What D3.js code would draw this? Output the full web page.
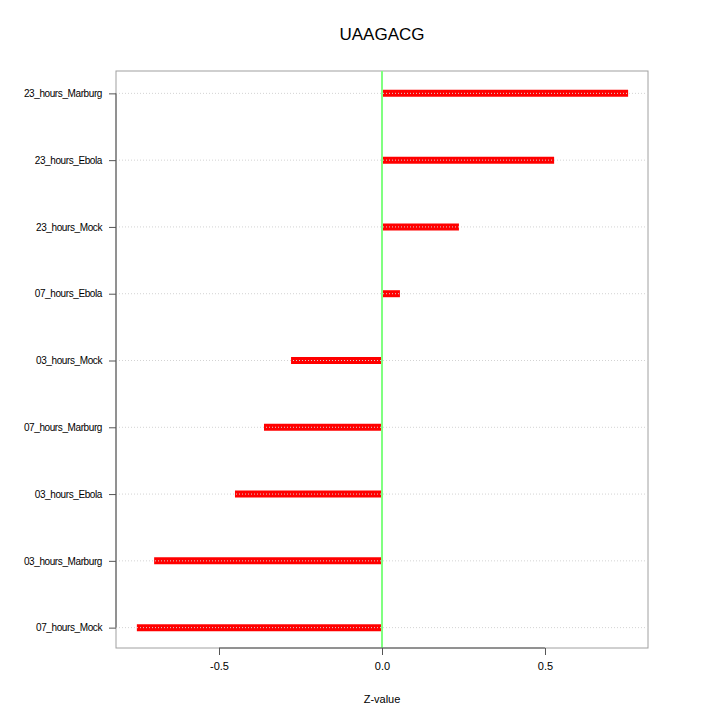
<!DOCTYPE html>
<html>
<head>
<meta charset="utf-8">
<script src="https://cdn.jsdelivr.net/npm/d3@7"></script>
<style>
body { margin: 0; background: #fff; }
text { font-family: "Liberation Sans", Arial, sans-serif; }
</style>
</head>
<body>
<div id="chart"></div>
<script>
// data (top to bottom)
var categories = ['23_hours_Marburg', '23_hours_Ebola', '23_hours_Mock', '07_hours_Ebola',
	'03_hours_Mock', '07_hours_Marburg', '03_hours_Ebola', '03_hours_Marburg', '07_hours_Mock'];
var zvalues = [0.755, 0.528, 0.236, 0.055, -0.279, -0.362, -0.451, -0.699, -0.752];
var xticks = [-0.5, 0.0, 0.5];
var title = 'UAAGACG';

var width = 720, height = 720;
var plotLeft = 116, plotRight = 648, plotTop = 71, plotBottom = 648;

var svg = d3.select('#chart').append('svg')
	.attr('width', width)
	.attr('height', height);

var x = d3.scaleLinear()
	.domain([-0.816, 0.816])
	.range([plotLeft, plotRight]);

// R style: points 1..n with 4% padding
var n = categories.length;
var y = d3.scaleLinear()
	.domain([0.68, n + 0.32])
	.range([plotBottom + 1, plotTop + 1]);
function yPos(i){ return y(n - i); }

// box
svg.append('rect')
	.attr('x', plotLeft).attr('y', plotTop)
	.attr('width', plotRight - plotLeft).attr('height', plotBottom - plotTop)
	.attr('fill', 'none').attr('stroke', '#a0a0a0').attr('stroke-width', 1);

// bars
svg.selectAll('line.bar')
	.data(zvalues)
	.enter().append('line')
		.attr('class', 'bar')
		.attr('x1', x(0))
		.attr('x2', function(d){ return x(d); })
		.attr('y1', function(d, i){ return yPos(i); })
		.attr('y2', function(d, i){ return yPos(i); })
		.attr('stroke', '#ff0000')
		.attr('stroke-width', 7);

// dotted grid lines over bars
svg.selectAll('line.grid')
	.data(categories)
	.enter().append('line')
		.attr('class', 'grid')
		.attr('x1', plotLeft).attr('x2', plotRight)
		.attr('y1', function(d, i){ return yPos(i); })
		.attr('y2', function(d, i){ return yPos(i); })
		.attr('stroke', '#d3d3d3')
		.attr('stroke-width', 1)
		.attr('stroke-dasharray', '1,2');

// zero line
svg.append('line')
	.attr('x1', x(0)).attr('x2', x(0))
	.attr('y1', plotTop).attr('y2', plotBottom)
	.attr('stroke', '#80ff80')
	.attr('stroke-width', 2);

// x axis
var xAxis = d3.axisBottom(x)
	.tickValues(xticks)
	.tickSize(7)
	.tickPadding(7);
var gx = svg.append('g')
	.attr('transform', 'translate(0,' + plotBottom + ')')
	.call(xAxis);
gx.select('.domain').attr('d', 'M' + x(xticks[0]) + ',0H' + x(xticks[xticks.length - 1])).attr('stroke', '#555');
gx.selectAll('.tick line').attr('stroke', '#555');
gx.selectAll('text').attr('font-size', 11).attr('fill', '#000')
	.text(function(d){ return d3.format('.1f')(d).replace('−', '-'); });

// y axis
var yAxis = d3.axisLeft(y)
	.tickValues(d3.range(1, n + 1))
	.tickFormat(function(d){ return categories[n - d]; })
	.tickSize(7)
	.tickPadding(7);
var gy = svg.append('g')
	.attr('transform', 'translate(' + plotLeft + ',0)')
	.call(yAxis);
gy.select('.domain').attr('d', 'M0,' + y(n) + 'V' + y(1)).attr('stroke', '#555');
gy.selectAll('.tick line').attr('stroke', '#555');
gy.selectAll('text').attr('font-size', 10).attr('fill', '#000')
	.attr('letter-spacing', '-0.4px');

// title and axis label
svg.append('text')
	.attr('x', (plotLeft + plotRight) / 2).attr('y', 40)
	.attr('text-anchor', 'middle')
	.attr('font-size', 17)
	.text(title);

svg.append('text')
	.attr('x', (plotLeft + plotRight) / 2).attr('y', 703)
	.attr('text-anchor', 'middle')
	.attr('font-size', 11)
	.text('Z-value');
</script>
</body>
</html>
